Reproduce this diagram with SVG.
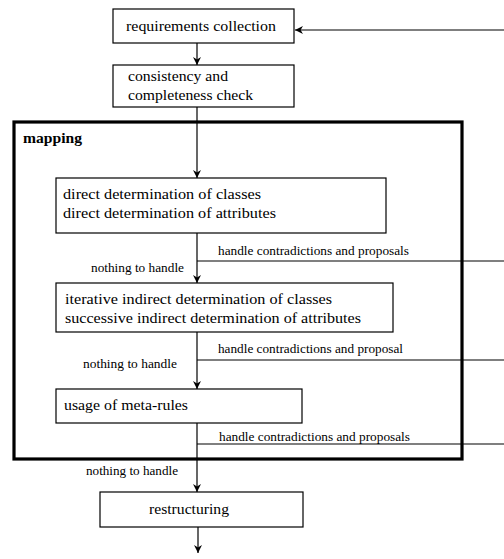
<svg xmlns="http://www.w3.org/2000/svg" width="504" height="559" viewBox="0 0 504 559">
<style>
.box{fill:#fff;stroke:#000;stroke-width:1.2}
text{fill:#000}
.t{font-size:14px}
.s{font-size:12px}
.b{font-size:15px;font-weight:bold}
.ln{fill:none;stroke:#000;stroke-width:1.2}
.arr{fill:none;stroke:#000;stroke-width:1.2;marker-end:url(#ah)}
</style>
<defs>
<marker id="ah" viewBox="0 0 10 10" refX="10" refY="5" markerWidth="8" markerHeight="8" markerUnits="userSpaceOnUse" orient="auto">
<path d="M0,0 L10,5 L0,10 L3,5 Z" fill="#000"/>
</marker>
</defs>
<rect width="504" height="559" fill="#fff"/>
<g font-family="Liberation Serif, Times New Roman, serif" xml:space="preserve">
<g id="mapping">
<rect x="14" y="122" width="448" height="337" fill="none" stroke="#000" stroke-width="3.2"/>
<text class="b" x="23" y="143" textLength="59" lengthAdjust="spacingAndGlyphs">mapping</text>
</g>
<g id="connectors">
<path class="arr" d="M504,30 H295"/>
<path class="arr" d="M197,43 V65"/>
<path class="arr" d="M197,107 V178"/>
<path class="arr" d="M197,233 V283"/>
<path class="ln" d="M197,261 H504"/>
<path class="arr" d="M197,332 V389"/>
<path class="ln" d="M197,360 H504"/>
<path class="arr" d="M197,423 V492"/>
<path class="ln" d="M197,444 H504"/>
<path class="arr" d="M198,527 V553"/>
<text class="s" x="218" y="255" textLength="191" lengthAdjust="spacingAndGlyphs">handle contradictions and proposals</text>
<text class="s" x="91" y="272" textLength="93" lengthAdjust="spacingAndGlyphs">nothing to handle</text>
<text class="s" x="218" y="353" textLength="185" lengthAdjust="spacingAndGlyphs">handle contradictions and proposal</text>
<text class="s" x="83" y="368" textLength="94" lengthAdjust="spacingAndGlyphs">nothing to handle</text>
<text class="s" x="219" y="441" textLength="191" lengthAdjust="spacingAndGlyphs">handle contradictions and proposals</text>
<text class="s" x="86" y="475" textLength="92" lengthAdjust="spacingAndGlyphs">nothing to handle</text>
</g>
<g id="requirements">
<rect class="box" x="113" y="9" width="181" height="34"/>
<text class="t" x="126" y="31" textLength="150" lengthAdjust="spacingAndGlyphs">requirements collection</text>
</g>
<g id="consistency">
<rect class="box" x="113" y="65" width="181" height="42"/>
<text class="t" x="128" y="81" textLength="100" lengthAdjust="spacingAndGlyphs">consistency and</text>
<text class="t" x="128" y="100" textLength="125" lengthAdjust="spacingAndGlyphs">completeness check</text>
</g>
<g id="direct">
<rect class="box" x="56" y="178" width="330" height="55"/>
<text class="t" x="63" y="199" textLength="198" lengthAdjust="spacingAndGlyphs">direct  determination of classes</text>
<text class="t" x="63" y="218" textLength="213" lengthAdjust="spacingAndGlyphs">direct determination of  attributes</text>
</g>
<g id="iterative">
<rect class="box" x="56" y="283" width="337" height="49"/>
<text class="t" x="65" y="304" textLength="267" lengthAdjust="spacingAndGlyphs">iterative indirect determination  of classes</text>
<text class="t" x="65" y="323" textLength="296" lengthAdjust="spacingAndGlyphs">successive indirect determination of  attributes</text>
</g>
<g id="metarules">
<rect class="box" x="56" y="389" width="246" height="34"/>
<text class="t" x="64" y="410" textLength="124" lengthAdjust="spacingAndGlyphs">usage of meta-rules</text>
</g>
<g id="restructuring">
<rect class="box" x="100" y="492" width="203" height="35"/>
<text class="t" x="149" y="514" textLength="80" lengthAdjust="spacingAndGlyphs">restructuring</text>
</g>
</g>
</svg>
